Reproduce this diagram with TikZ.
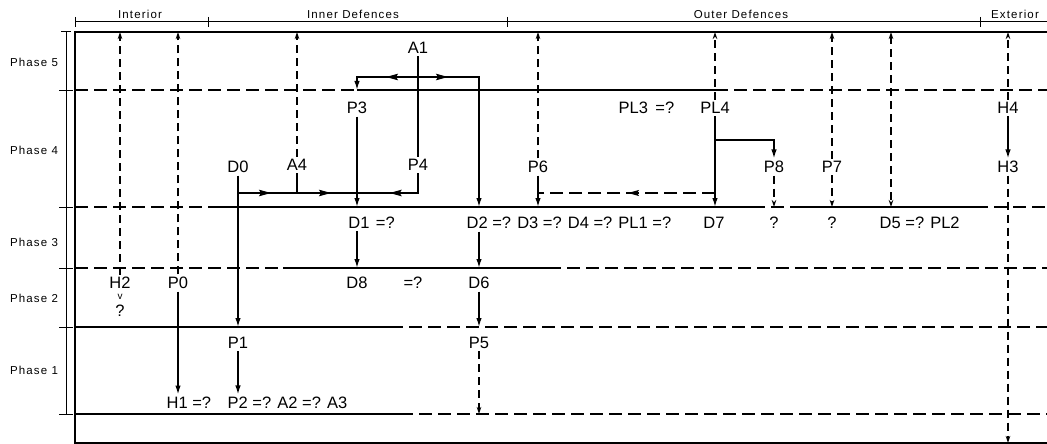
\documentclass[tikz,border=0pt]{standalone}
\usepackage{fontspec}
\setmainfont{Liberation Sans}
\newfontfamily\hdfont[LetterSpace=10]{Liberation Sans}
\usetikzlibrary{arrows.meta,decorations.markings}
\begin{document}
\begin{tikzpicture}[x=1pt,y=-1pt,
  lab/.style={font=\fontsize{16.5}{18}\selectfont, inner sep=2.5pt},
  phl/.style={font=\hdfont\fontsize{11.5}{13}\selectfont, inner sep=0pt},
  frameline/.style={line width=2pt},
  sline/.style={line width=1.8pt},
  dline/.style={line width=1.2pt, dash pattern=on 13pt off 6pt},
  vdash/.style={line width=1.1pt, dash pattern=on 8pt off 5pt},
  arr/.style={line width=1.5pt, -{Latex[length=9pt,width=5.5pt]}},
  darr/.style={vdash, -{Stealth[length=7pt,width=4.5pt]}},
  mid/.style={postaction=decorate, decoration={markings, mark=at position #1 with {\arrow{Stealth[length=12pt,width=6.5pt,inset=2pt]}}}},
  midd/.style={postaction=decorate, decoration={markings, mark=at position #1 with {\arrow{Stealth[length=11pt,width=6pt,inset=2pt]}}}},
  midtwo/.style 2 args={postaction=decorate, decoration={markings,
     mark=at position #1 with {\arrow{Stealth[length=12pt,width=6.5pt,inset=2pt]}},
     mark=at position #2 with {\arrow{Stealth[length=12pt,width=6.5pt,inset=2pt]}}}}
]
\useasboundingbox (0,0) rectangle (1047,444);

% header bracket
\draw[line width=1pt] (75,22) -- (1047,22);
\foreach \x in {75,208,507,980} \draw[line width=1pt] (\x,17) -- (\x,27);
\node[phl] (hInt) at (140,14) {Interior};
\node[phl] (hInn) at (353,14) {Inner Defences};
\node[phl] (hOut) at (741,14) {Outer Defences};
\node[phl] (hExt) at (1015,14) {Exterior};

% phase axis
\draw[line width=1pt] (66,32) -- (66,414);
\draw[line width=1pt] (61,32) -- (71,32);
\foreach \y in {90,207,268,327,414} \draw[line width=1pt] (59,\y) -- (73,\y);
\node[phl] (ph5) at (34,62) {Phase 5};
\node[phl] (ph4) at (34,150) {Phase 4};
\node[phl] (ph3) at (34,242) {Phase 3};
\node[phl] (ph2) at (34,298) {Phase 2};
\node[phl] (ph1) at (34,370) {Phase 1};

% phase line coordinates
\coordinate (L0) at (75,32);
\coordinate (L1) at (75,90);
\coordinate (L2) at (75,207);
\coordinate (L3) at (75,268);
\coordinate (L4) at (75,327);
\coordinate (L5) at (75,414);
\coordinate (L6) at (75,443);
\coordinate (r77) at (0,77);
\coordinate (r140) at (0,140);
\coordinate (r193) at (0,193);

% frame
\draw[line width=2.4pt] (75,32) -- (1047,32);
\draw[frameline] (75,31) -- (75,443) -- (1047,443);

% phase lines
\draw[dline] (75,90) -- (357,90);
\draw[sline] (357,90) -- (715,90);
\draw[dline] (715,90) -- (1047,90);

\draw[dline] (75,207) -- (208,207);
\draw[sline] (208,207) -- (752,207);
\draw[dline] (752,207) -- (803,207);
\draw[sline] (803,207) -- (975,207);
\draw[dline] (975,207) -- (1047,207);

\draw[dline] (75,268) -- (283,268);
\draw[sline] (283,268) -- (548,268);
\draw[dline] (548,268) -- (1047,268);

\draw[sline] (75,327) -- (390,327);
\draw[dline] (390,327) -- (1047,327);

\draw[sline] (75,414) -- (400,414);
\draw[dline] (400,414) -- (1047,414);

% labels
\node[lab] (A1) at (418,48) {A1};
\node[lab] (P3) at (357,108) {P3};
\node[lab, anchor=west] (PL3) at (616,108) {PL3 \,=?};
\node[lab] (PL4) at (715,108) {PL4};
\node[lab] (H4) at (1008,108) {H4};
\node[lab] (D0) at (238,167) {D0};
\node[lab] (A4) at (297,165) {A4};
\node[lab] (P4) at (418,165) {P4};
\node[lab] (P6) at (538,167) {P6};
\node[lab] (P8) at (774,167) {P8};
\node[lab] (P7) at (832,167) {P7};
\node[lab] (H3) at (1008,167) {H3};
\node[lab] (D1) at (359,223) {D1};
\node[lab, anchor=west] (D1q) at ([xshift=1pt]D1.east) {=?};
\node[lab, anchor=west] (D2) at (464,223) {D2 =? D3 =? D4 =? PL1 =?};
\node[lab] (D7) at (714,223) {D7};
\node[lab] (q8) at (774,223) {?};
\node[lab] (q7) at (832,223) {?};
\node[lab, anchor=west] (D5) at (877,223) {D5 =? PL2};
\node[lab] (H2) at (120,283) {H2};
\node[lab] (P0) at (178,283) {P0};
\node[lab] (D8) at (357,283) {D8};
\node[lab] (D8q) at (413,283) {=?};
\node[lab] (D6) at (479,283) {D6};
\node[font=\fontsize{10}{11}\selectfont, inner sep=0pt] (H2v) at (120,297) {v};
\node[lab] (H2q) at (120,311) {?};
\node[lab] (P1) at (238,343) {P1};
\node[lab] (P5) at (479,343) {P5};
\node[lab, anchor=west] (H1) at (164,403) {H1 =?};
\node[lab, anchor=west] (P2) at (225,403) {P2 =? A2 =? A3};

% dashed verticals to the top
\draw[darr] (H2.north) -- (H2 |- L0);
\draw[darr] (P0.north) -- (P0 |- L0);
\draw[darr] (A4.north) -- (A4 |- L0);
\draw[darr] (P6.north) -- (P6 |- L0);
\draw[darr] (PL4.north) -- (PL4 |- L0);
\draw[darr] (P7.north) -- (P7 |- L0);
\draw[darr] (H4.north) -- (H4 |- L0);
\coordinate (c5t) at (891,32);
\coordinate (c5b) at (891,207);
\draw[vdash, {Stealth[length=7pt,width=4.5pt]}-{Stealth[length=7pt,width=4.5pt]}] (c5t) -- (c5b);

% A1 branches
\coordinate (j1) at (A1 |- r77);
\draw[line width=1.5pt] (A1.south) -- (P4.north);
\draw[arr, mid=32pt] (j1) -| (P3 |- L1);
\draw[arr, mid=30pt] (j1) -| (D6 |- L2);

% P3, P4
\draw[arr] (P3.south) -- (P3 |- L2);
\draw[line width=1.5pt, mid=48pt] (P4.south) -- (P4 |- r193) -- (P3 |- r193);

% D0
\draw[arr] (D0.south) -- (D0 |- L4);
\draw[line width=1.5pt, midtwo={33pt}{93pt}] (D0 |- r193) -- (P3 |- r193);
\draw[line width=1.5pt] (A4.south) -- (A4 |- r193);

% phase 3 to 2 to 1
\draw[arr] (D1.south -| D8) -- (D8 |- L3);
\draw[arr] (D6 |- D2.south) -- (D6 |- L3);
\draw[arr] (D6.south) -- (D6 |- L4);
\draw[darr] (P5.south) -- (P5 |- L5);

% outer defences
\draw[arr] (P6.south) -- (P6 |- L2);
\draw[arr] (PL4.south) -- (PL4 |- L2);
\draw[arr] (PL4 |- r140) -| (P8.north);
\draw[dline, midd=87pt] (PL4 |- r193) -- (P6 |- r193);
\draw[darr] (P8.south) -- (P8 |- L2);
\draw[darr] (P7.south) -- (P7 |- L2);

% exterior
\draw[arr] (H4.south) -- (H4 |- H3.north);
\draw[darr] (H3.south) -- (H3 |- L6);

% phase 2 to 1
\draw[arr] (P0.south) -- (P0 |- H1.north);
\draw[arr] (P1.south) -- (P1 |- P2.north);
\end{tikzpicture}
\end{document}
